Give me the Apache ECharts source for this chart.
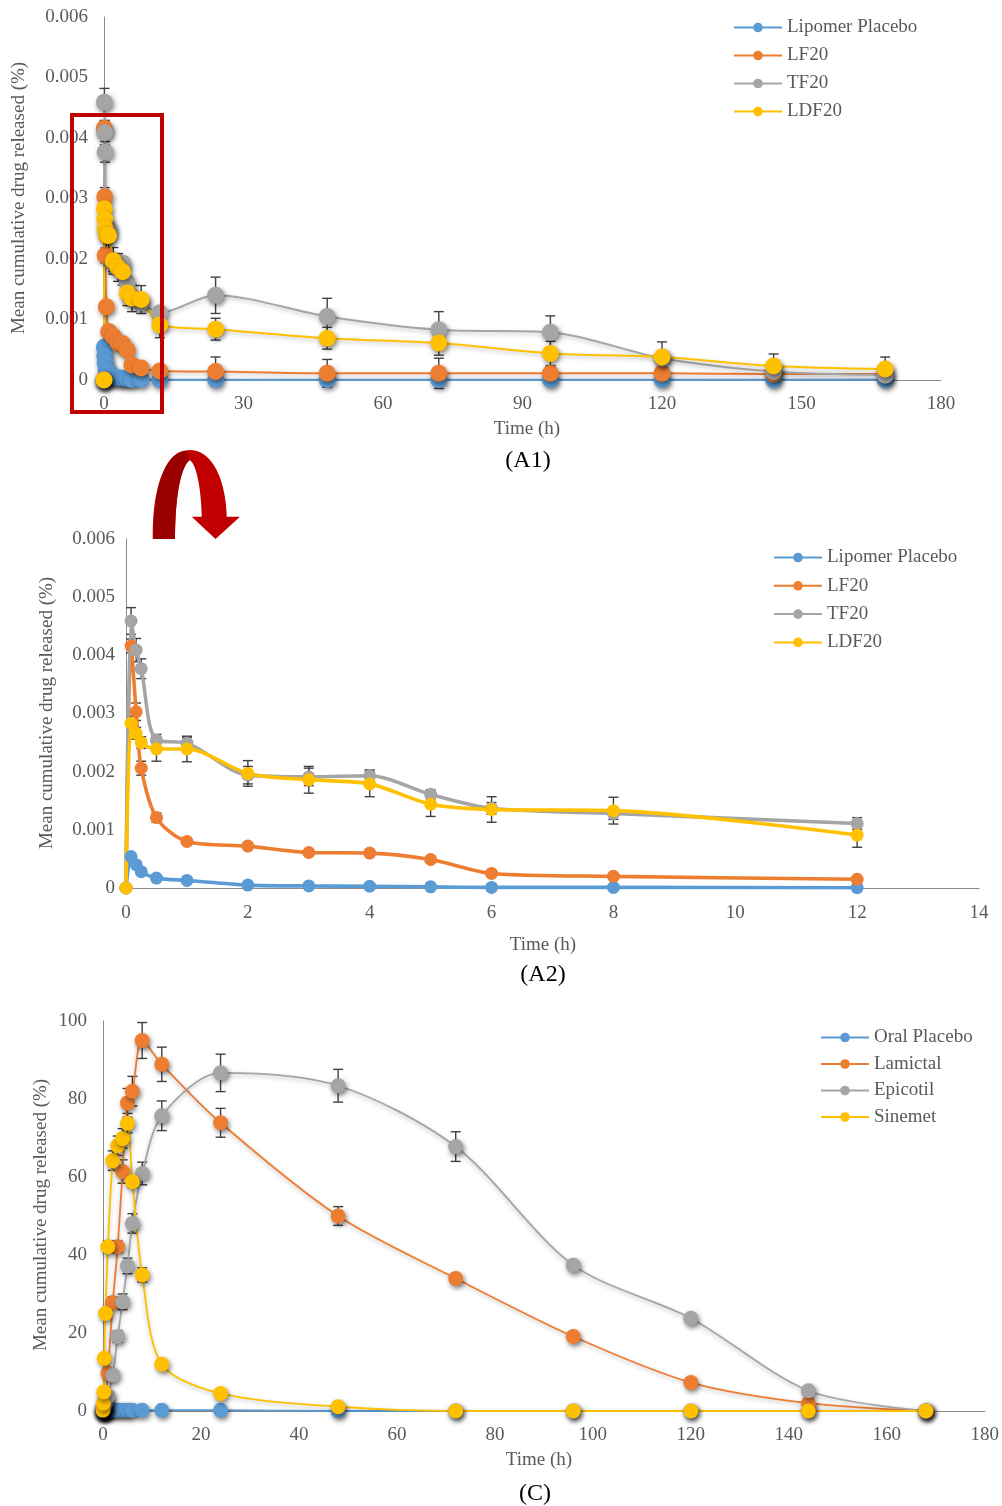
<!DOCTYPE html>
<html>
<head>
<meta charset="utf-8">
<script src="https://cdn.jsdelivr.net/npm/echarts@6/dist/echarts.min.js"></script>
<style>
  html, body { margin: 0; padding: 0; background: #fff; }
  #chart { width: 1002px; height: 1506px; }
</style>
</head>
<body>
<div id="chart"></div>
<script>
// Sampling times (h)
const times = [0, 0.083, 0.167, 0.25, 0.5, 1, 2, 3, 4, 5, 6, 8, 12, 24, 48, 72, 96, 120, 144, 168];

// Lipomer formulations: mean cumulative drug released (%)
const lipomerPlacebo = [0, 0.00054, 0.0004, 0.00028, 0.00017, 0.00013, 0.00005, 0.000035, 0.00003, 0.00002, 0.00001, 0.00001, 0.000005, 0.000005, 0.000005, 0.000005, 0.000005, 0.000005, 0.000005, 0.000005];
const lf20  = [0, 0.00416, 0.00303, 0.00206, 0.00121, 0.0008, 0.00072, 0.00061, 0.0006, 0.00049, 0.00025, 0.0002, 0.00015, 0.00014, 0.00011, 0.00011, 0.00011, 0.00011, 0.0001, 0.0001];
const tf20  = [0, 0.00459, 0.00409, 0.00377, 0.00254, 0.00249, 0.00194, 0.00191, 0.00193, 0.00161, 0.00137, 0.00128, 0.00111, 0.0014, 0.00105, 0.00083, 0.00079, 0.00036, 0.00014, 0.00008];
const ldf20 = [0, 0.00283, 0.00266, 0.0025, 0.00239, 0.00239, 0.00197, 0.00186, 0.00179, 0.00144, 0.00135, 0.00133, 0.00091, 0.00084, 0.00069, 0.00061, 0.00044, 0.00038, 0.00023, 0.00018];

// Standard deviations for the lipomer formulations
const sdLipomerPlacebo = [0, 0.00006, 0.00005, 0.00004, 0.00003, 0.00002, 0.00001, 0.00001, 0.00001, 0.00001, 0, 0, 0, 0, 0, 0, 0, 0, 0, 0];
const sdLf20  = [0, 0.00012, 0.00015, 0.00012, 0.00008, 0.00005, 0.00005, 0.00004, 0.00004, 0.00004, 0.00003, 0.00003, 0.00003, 0.00024, 0.00023, 0.00025, 0.00012, 0.0001, 0.00005, 0.00005];
const sdTf20  = [0, 0.00023, 0.0002, 0.00017, 0.0001, 0.0001, 0.00015, 0.00015, 0.0001, 0.00008, 0.0001, 0.0001, 0.0001, 0.0003, 0.0003, 0.0003, 0.00027, 0.0001, 0.00005, 0.00005];
const sdLdf20 = [0, 0.00012, 0.0001, 0.0001, 0.00021, 0.00022, 0.00022, 0.00023, 0.00022, 0.00021, 0.00022, 0.00023, 0.00021, 0.00018, 0.00018, 0.0002, 0.0002, 0.00025, 0.0002, 0.0002];

// Oral marketed products: mean cumulative drug released (%)
const oralPlacebo = [0, 0, 0, 0, 0, 0.2, 0.2, 0.2, 0.2, 0.2, 0.2, 0.2, 0.2, 0.2, 0, 0, 0, 0, 0, 0];
const lamictal = [0, 0.3, 0.8, 1.5, 3.5, 9.7, 27.8, 42.1, 61.4, 79, 82, 95, 88.9, 73.9, 50, 34, 19.1, 7.3, 2, 0];
const epicotil = [0, 0.3, 0.6, 1, 2, 3.7, 9.2, 19.1, 28, 37.2, 48.1, 60.9, 75.7, 86.7, 83.4, 67.8, 37.4, 23.8, 5.2, 0];
const sinemet  = [0.3, 2, 4.9, 13.5, 25, 42.1, 64.2, 68, 69.9, 73.8, 58.8, 34.9, 12, 4.5, 1.1, 0, 0, 0, 0, 0];

const sdOralPlacebo = [0, 0, 0, 0, 0, 0, 0, 0, 0, 0, 0, 0, 0, 0, 0, 0, 0, 0, 0, 0];
const sdLamictal = [0, 0, 0, 0, 0, 0.8, 1.5, 1.5, 3, 3.7, 3.8, 4.6, 4.4, 3.7, 2.4, 1, 0.5, 0, 0, 0];
const sdEpicotil = [0, 0, 0, 0, 0, 0.5, 1, 1.5, 2, 2, 2.5, 2.9, 3.8, 4.8, 4.2, 3.8, 1, 0, 0, 0];
const sdSinemet  = [0, 0, 0, 0, 0.8, 1.5, 2.5, 2.5, 2.5, 2.5, 1.5, 1.8, 0.5, 0, 0, 0, 0, 0, 0, 0];

const lipomerNames = ['Lipomer Placebo', 'LF20', 'TF20', 'LDF20'];
const oralNames = ['Oral Placebo', 'Lamictal', 'Epicotil', 'Sinemet'];
const colors = ['#5B9BD5', '#ED7D31', '#A5A5A5', '#FFC000'];

const FONT = '"Liberation Serif", "Times New Roman", serif';
const GREY_TEXT = '#595959';
const AXIS_LINE = '#8C8C8C';

// Points of the first 12 h, used by the enlarged panel
const nEarly = times.filter(t => t <= 12).length;

function pairs(xs, ys) { return xs.map((t, i) => [t, ys[i]]); }
function triples(xs, ys, sds) { return xs.map((t, i) => [t, ys[i], sds[i]]); }

function lineSeries(name, color, idx, xs, ys, o) {
  const shadow = o.shadow ? { shadowColor: 'rgba(0,0,0,0.5)', shadowBlur: 5, shadowOffsetX: 1.5, shadowOffsetY: 2.5 } : {};
  const lshadow = o.shadow ? { shadowColor: 'rgba(0,0,0,0.25)', shadowBlur: 4, shadowOffsetY: 2 } : {};
  return {
    type: 'line', name, xAxisIndex: idx, yAxisIndex: idx,
    data: pairs(xs, ys),
    smooth: 0.3, symbol: 'circle', symbolSize: o.size, showSymbol: true,
    lineStyle: Object.assign({ color, width: o.width }, lshadow),
    itemStyle: Object.assign({ color }, shadow),
    emphasis: { disabled: true },
    z: 3, animation: false
  };
}

function errorSeries(idx, xs, ys, sds, cap) {
  return {
    type: 'custom', xAxisIndex: idx, yAxisIndex: idx,
    data: triples(xs, ys, sds), encode: { x: 0, y: 1 },
    silent: true, z: 2, animation: false,
    renderItem(params, api) {
      const x = api.value(0), v = api.value(1), sd = api.value(2);
      if (!sd) return null;
      const hi = api.coord([x, v + sd]);
      const lo = api.coord([x, v - sd]);
      const style = { stroke: '#404040', lineWidth: 1.4, fill: null };
      return {
        type: 'group',
        children: [
          { type: 'line', shape: { x1: hi[0], y1: hi[1], x2: lo[0], y2: lo[1] }, style },
          { type: 'line', shape: { x1: hi[0] - cap, y1: hi[1], x2: hi[0] + cap, y2: hi[1] }, style },
          { type: 'line', shape: { x1: lo[0] - cap, y1: lo[1], x2: lo[0] + cap, y2: lo[1] }, style }
        ]
      };
    }
  };
}

function xAxis(idx, max, interval, margin) {
  return {
    type: 'value', gridIndex: idx, min: 0, max, interval,
    axisLine: { show: true, onZero: false, lineStyle: { color: AXIS_LINE, width: 1 } },
    axisTick: { show: false }, splitLine: { show: false },
    axisLabel: { color: GREY_TEXT, fontFamily: FONT, fontSize: 19, margin, showMaxLabel: true }
  };
}
function yAxis(idx, max, interval, margin, decimals) {
  return {
    type: 'value', gridIndex: idx, min: 0, max, interval,
    axisLine: { show: true, lineStyle: { color: AXIS_LINE, width: 1 } },
    axisTick: { show: false }, splitLine: { show: false },
    axisLabel: {
      color: GREY_TEXT, fontFamily: FONT, fontSize: 19, margin,
      formatter: v => (v === 0 ? '0' : v.toFixed(decimals))
    }
  };
}
function legend(names, left, top, gap) {
  return {
    data: names, orient: 'vertical', left, top, itemGap: gap, padding: 0,
    itemWidth: 48, itemHeight: 12, selectedMode: false,
    textStyle: { color: GREY_TEXT, fontFamily: FONT, fontSize: 19 },
    lineStyle: { width: 2, shadowBlur: 0, shadowColor: 'transparent' },
    itemStyle: { shadowBlur: 0, shadowColor: 'transparent' }
  };
}
function label(text, x, y, o) {
  o = o || {};
  return {
    type: 'text', x, y, rotation: o.rotate ? Math.PI / 2 : 0, silent: true,
    style: {
      text, fill: o.color || GREY_TEXT, font: (o.size || 19) + 'px ' + FONT,
      align: 'center', verticalAlign: 'middle'
    }
  };
}

// Outline of a shape built from straight and cubic Bezier pieces, as polygon points
function outline(start, pieces) {
  const pts = [start];
  let cur = start;
  pieces.forEach(p => {
    if (p.length === 1) { pts.push(p[0]); cur = p[0]; return; }
    const [c1, c2, end] = p;
    for (let k = 1; k <= 24; k++) {
      const t = k / 24, u = 1 - t;
      pts.push([
        u * u * u * cur[0] + 3 * u * u * t * c1[0] + 3 * u * t * t * c2[0] + t * t * t * end[0],
        u * u * u * cur[1] + 3 * u * u * t * c1[1] + 3 * u * t * t * c2[1] + t * t * t * end[1]
      ]);
    }
    cur = end;
  });
  return pts;
}

const arrowBody = outline([152.7, 539], [
  [[152, 485], [166, 450], [190, 450]],
  [[213, 450], [226, 482], [226.7, 516.7]],
  [[240, 516.7]], [[215.5, 539]], [[191.7, 516.7]], [[201.7, 516.7]],
  [[201, 487], [196, 462], [189, 460]],
  [[181, 466], [175, 495], [175, 539]]
]);
const arrowShade = outline([153.5, 539], [
  [[153, 486], [166, 451], [186, 451]],
  [[189.5, 460.5]],
  [[181, 467], [175, 496], [175, 539]]
]);

const lipomerSets = [lipomerPlacebo, lf20, tf20, ldf20];
const lipomerSds = [sdLipomerPlacebo, sdLf20, sdTf20, sdLdf20];
const oralSets = [oralPlacebo, lamictal, epicotil, sinemet];
const oralSds = [sdOralPlacebo, sdLamictal, sdEpicotil, sdSinemet];

const series = [];
// Panel A1: whole 168 h profile
lipomerSets.forEach((ys, i) => series.push(errorSeries(0, times, ys, lipomerSds[i], 5)));
lipomerSets.forEach((ys, i) => series.push(lineSeries(lipomerNames[i], colors[i], 0, times, ys, { size: 17, width: 2, shadow: true })));
// Panel A2: first 12 h
const tEarly = times.slice(0, nEarly);
lipomerSets.forEach((ys, i) => series.push(errorSeries(1, tEarly, ys.slice(0, nEarly), lipomerSds[i].slice(0, nEarly), 5)));
lipomerSets.forEach((ys, i) => series.push(lineSeries(lipomerNames[i], colors[i], 1, tEarly, ys.slice(0, nEarly), { size: 13, width: 3.6, shadow: false })));
// Panel C: oral products
oralSets.forEach((ys, i) => series.push(errorSeries(2, times, ys, oralSds[i], 5)));
oralSets.forEach((ys, i) => series.push(lineSeries(oralNames[i], colors[i], 2, times, ys, { size: 15, width: 1.8, shadow: true })));

const chart = echarts.init(document.getElementById('chart'), null, { renderer: 'canvas' });
chart.setOption({
  backgroundColor: '#ffffff',
  animation: false,
  grid: [
    { left: 104, top: 17, width: 837, height: 363 },
    { left: 126, top: 539, width: 853, height: 349 },
    { left: 103, top: 1021, width: 882, height: 390 }
  ],
  xAxis: [xAxis(0, 180, 30, 15), xAxis(1, 14, 2, 16), xAxis(2, 180, 20, 15)],
  yAxis: [yAxis(0, 0.006, 0.001, 16, 3), yAxis(1, 0.006, 0.001, 11, 3), yAxis(2, 100, 20, 16, 0)],
  legend: [
    legend(lipomerNames, 733, 18, 9),
    legend(lipomerNames, 773, 548, 9.3),
    legend(oralNames, 820, 1028, 7.5)
  ],
  series,
  graphic: [
    label('Mean cumulative drug released (%)', 19, 198, { rotate: true }),
    label('Time (h)', 527, 429),
    label('(A1)', 528, 461, { color: '#000', size: 24 }),
    label('Mean cumulative drug released (%)', 47, 713, { rotate: true }),
    label('Time (h)', 543, 945),
    label('(A2)', 543, 975, { color: '#000', size: 24 }),
    label('Mean cumulative drug released (%)', 41, 1215, { rotate: true }),
    label('Time (h)', 539, 1460),
    label('(C)', 535, 1494, { color: '#000', size: 24 }),
    // frame around the first 12 h of panel A1
    {
      type: 'rect', silent: true, z: 10,
      shape: { x: 72, y: 115, width: 90, height: 297 },
      style: { fill: null, stroke: '#C00000', lineWidth: 4 }
    },
    // curved arrow pointing to the enlarged panel
    { type: 'polygon', silent: true, z: 10, shape: { points: arrowBody }, style: { fill: '#C00000' } },
    { type: 'polygon', silent: true, z: 11, shape: { points: arrowShade }, style: { fill: '#9B0000' } }
  ]
});
</script>
</body>
</html>
